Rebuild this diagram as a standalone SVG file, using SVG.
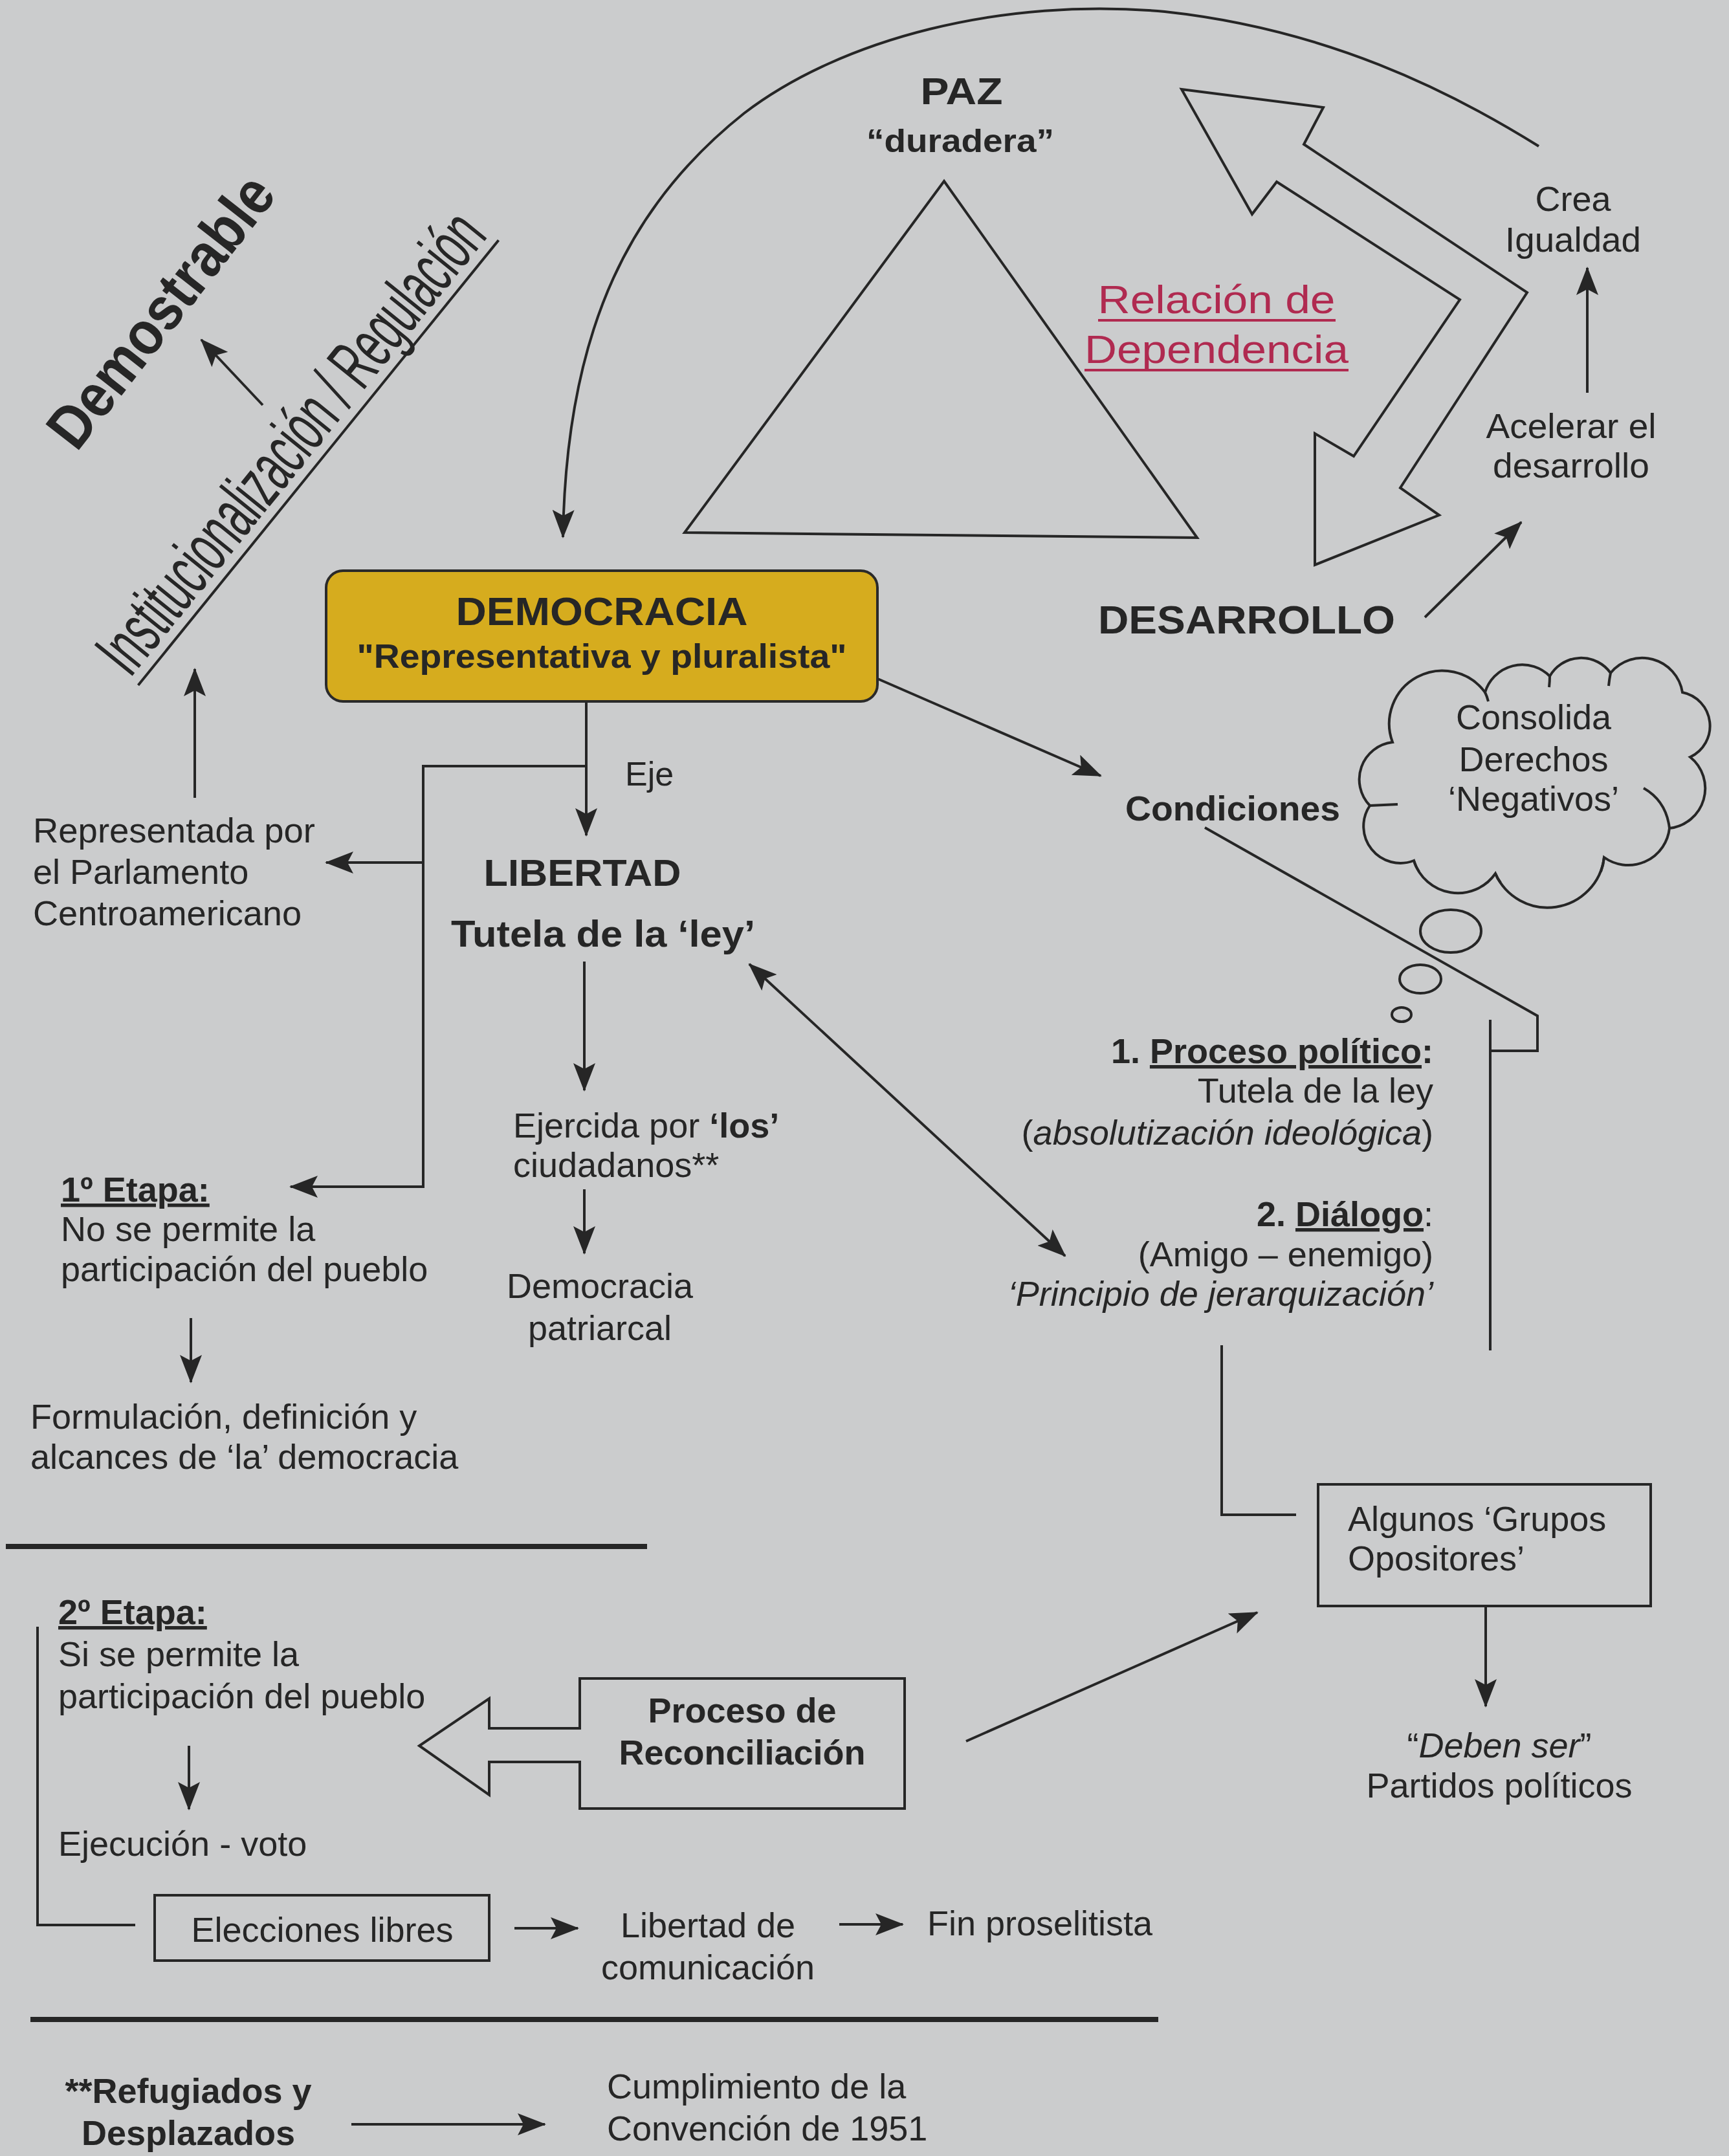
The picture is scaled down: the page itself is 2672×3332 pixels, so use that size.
<svg xmlns="http://www.w3.org/2000/svg" width="2672" height="3332" viewBox="0 0 2672 3332">
<style>
.t{font-family:"Liberation Sans",Arial,sans-serif;font-size:54px;fill:#262626}
.b{font-weight:bold}
.i{font-style:italic}
.u{text-decoration:underline}
.m{text-anchor:middle}
.e{text-anchor:end}
.ln{fill:none;stroke:#262626;stroke-width:4}
.ar{fill:none;stroke:#262626;stroke-width:4;marker-end:url(#ah)}
.shape{fill:none;stroke:#262626;stroke-width:4;stroke-linejoin:miter}
.red{fill:#b02a50}
</style>
<defs>
<marker id="ah" markerUnits="userSpaceOnUse" viewBox="0 0 44 34" markerWidth="44" markerHeight="34" refX="42" refY="17" orient="auto">
<path d="M0,0 L44,17 L0,34 L9,17 z" fill="#262626"/>
</marker>
<marker id="ahs" markerUnits="userSpaceOnUse" viewBox="0 0 44 34" markerWidth="44" markerHeight="34" refX="42" refY="17" orient="auto-start-reverse">
<path d="M0,0 L44,17 L0,34 L9,17 z" fill="#262626"/>
</marker>
</defs>
<rect x="0" y="0" width="2672" height="3332" fill="#cbcccd"/>

<g id="connectors">
<path class="ar" d="M2378,226 C2240,140 2050,45 1800,18 C1550,-5 1300,60 1150,175 C980,310 875,500 870,830"/>
<line class="ar" x1="406" y1="626" x2="311" y2="525"/>
<line class="ar" x1="301" y1="1233" x2="301" y2="1034"/>
<line class="ar" x1="906" y1="1084" x2="906" y2="1291"/>
<polyline class="ar" points="906,1184 654,1184 654,1834 449,1834"/>
<line class="ar" x1="654" y1="1333" x2="504" y2="1333"/>
<line class="ar" x1="903" y1="1486" x2="903" y2="1685"/>
<line class="ar" x1="903" y1="1838" x2="903" y2="1937"/>
<line class="ar" x1="295" y1="2037" x2="295" y2="2136"/>
<line class="ar" x1="1354" y1="1048" x2="1701" y2="1199"/>
<polyline class="ln" points="1862,1279 2376,1570 2376,1624 2303,1624"/>
<line class="ln" x1="2303" y1="1576" x2="2303" y2="2087"/>
<line class="ar" style="marker-start:url(#ahs)" x1="1158" y1="1490" x2="1646" y2="1941"/>
<polyline class="ln" points="1888,2079 1888,2341 2003,2341"/>
<line class="ar" x1="1493" y1="2691" x2="1943" y2="2492"/>
<line class="ar" x1="2296" y1="2482" x2="2296" y2="2637"/>
<line class="ar" x1="2202" y1="954" x2="2351" y2="807"/>
<line class="ar" x1="2453" y1="607" x2="2453" y2="414"/>
<polyline class="ln" points="58,2514 58,2975 209,2975"/>
<line class="ar" x1="292" y1="2698" x2="292" y2="2796"/>
<line class="ar" x1="795" y1="2980" x2="893" y2="2980"/>
<line class="ar" x1="1297" y1="2974" x2="1395" y2="2974"/>
<line class="ar" x1="543" y1="3283" x2="842" y2="3283"/>
<line x1="9" y1="2390" x2="1000" y2="2390" stroke="#262626" stroke-width="8"/>
<line x1="47" y1="3121" x2="1790" y2="3121" stroke="#262626" stroke-width="8"/>
</g>

<g id="demostrable" transform="translate(274,501) rotate(-52)">
<text class="t b m" x="0" y="0" style="font-size:95px" textLength="505" lengthAdjust="spacingAndGlyphs">Demostrable</text>
</g>

<g id="institucionalizacion" transform="translate(478,707) rotate(-51)">
<text class="t m" x="0" y="0" style="font-size:110px" textLength="880" lengthAdjust="spacingAndGlyphs">Institucionalización / Regulación</text>
<line x1="-440" y1="16" x2="445" y2="16" stroke="#262626" stroke-width="4"/>
</g>

<g id="paz">
<text class="t b m" x="1486" y="161" style="font-size:58px" textLength="127" lengthAdjust="spacingAndGlyphs">PAZ</text>
<text class="t b m" x="1484" y="235" style="font-size:50px" textLength="290" lengthAdjust="spacingAndGlyphs">“duradera”</text>
<polygon class="shape" points="1459,280 1058,823 1850,831"/>
</g>

<g id="dependencia">
<polygon class="shape" points="1826,138 2045,166 2015,223 2360,452 2164,754 2224,796 2032,873 2032,670 2092,705 2256,463 1973,281 1935,331"/>
<text class="t red m" x="1880" y="484" style="font-size:62px" textLength="367" lengthAdjust="spacingAndGlyphs">Relación de</text>
<text class="t red m" x="1880" y="561" style="font-size:62px" textLength="408" lengthAdjust="spacingAndGlyphs">Dependencia</text>
<line x1="1697" y1="495" x2="2064" y2="495" stroke="#b02a50" stroke-width="4"/>
<line x1="1676" y1="572" x2="2084" y2="572" stroke="#b02a50" stroke-width="4"/>
</g>

<g id="crea">
<text class="t m" x="2431" y="326">Crea</text>
<text class="t m" x="2431" y="389" textLength="210" lengthAdjust="spacingAndGlyphs">Igualdad</text>
</g>

<g id="acelerar">
<text class="t m" x="2428" y="677" textLength="263" lengthAdjust="spacingAndGlyphs">Acelerar el</text>
<text class="t m" x="2428" y="738" textLength="242" lengthAdjust="spacingAndGlyphs">desarrollo</text>
</g>

<g id="desarrollo">
<text class="t b" x="1697" y="979" style="font-size:62px" textLength="459" lengthAdjust="spacingAndGlyphs">DESARROLLO</text>
</g>

<g id="democracia">
<rect x="504" y="882" width="852" height="202" rx="26" fill="#d6ac1e" stroke="#2a2a2a" stroke-width="4"/>
<text class="t b m" x="930" y="966" style="font-size:62px" textLength="451" lengthAdjust="spacingAndGlyphs">DEMOCRACIA</text>
<text class="t b m" x="930" y="1032" style="font-size:52px" textLength="757" lengthAdjust="spacingAndGlyphs">"Representativa y pluralista"</text>
</g>

<g id="eje"><text class="t" x="966" y="1214" style="font-size:52px">Eje</text></g>

<g id="representada">
<text class="t" x="51" y="1302" textLength="436" lengthAdjust="spacingAndGlyphs">Representada por</text>
<text class="t" x="51" y="1366">el Parlamento</text>
<text class="t" x="51" y="1430" textLength="415" lengthAdjust="spacingAndGlyphs">Centroamericano</text>
</g>

<g id="libertad">
<text class="t b m" x="900" y="1369" style="font-size:58px" textLength="305" lengthAdjust="spacingAndGlyphs">LIBERTAD</text>
<text class="t b m" x="932" y="1463" style="font-size:58px" textLength="470" lengthAdjust="spacingAndGlyphs">Tutela de la ‘ley’</text>
</g>

<g id="ejercida">
<text class="t" x="793" y="1758">Ejercida por <tspan class="b">‘los’</tspan></text>
<text class="t" x="793" y="1819">ciudadanos**</text>
</g>

<g id="patriarcal">
<text class="t m" x="927" y="2006">Democracia</text>
<text class="t m" x="927" y="2071">patriarcal</text>
</g>

<g id="etapa1">
<text class="t b u" x="94" y="1857">1º Etapa:</text>
<text class="t" x="94" y="1918">No se permite la</text>
<text class="t" x="94" y="1980">participación del pueblo</text>
</g>

<g id="formulacion">
<text class="t" x="47" y="2208">Formulación, definición y</text>
<text class="t" x="47" y="2270">alcances de ‘la’ democracia</text>
</g>

<g id="condiciones">
<text class="t b" x="1739" y="1268" textLength="332" lengthAdjust="spacingAndGlyphs">Condiciones</text>
</g>

<g id="nube">
<path class="shape" d="M2152,1147 A82,82 0 0 1 2295,1070 A60,60 0 0 1 2395,1045 A56,56 0 0 1 2489,1040 A63,63 0 0 1 2600,1070 A53,53 0 0 1 2612,1170 A62,62 0 0 1 2580,1280 A64,64 0 0 1 2479,1325 A88,88 0 0 1 2311,1350 A71,71 0 0 1 2185,1330 A57,57 0 0 1 2117,1245 A58,58 0 0 1 2152,1147 z"/>
<path class="ln" d="M2117,1245 L2160,1243 M2580,1280 Q2575,1238 2540,1218 M2311,1350 Q2314,1358 2319,1364 M2479,1325 Q2478,1336 2474,1347 M2185,1330 Q2187,1338 2193,1347 M2295,1070 Q2298,1076 2300,1084 M2489,1040 Q2487,1050 2486,1060 M2395,1045 Q2395,1053 2394,1062"/>
<ellipse class="shape" cx="2242" cy="1439" rx="47" ry="33"/>
<ellipse class="shape" cx="2195" cy="1513" rx="32" ry="22"/>
<ellipse class="shape" cx="2166" cy="1568" rx="15" ry="11"/>
<text class="t m" x="2370" y="1127">Consolida</text>
<text class="t m" x="2370" y="1192">Derechos</text>
<text class="t m" x="2370" y="1253">‘Negativos’</text>
</g>

<g id="proceso-politico">
<text class="t e" x="2215" y="1643"><tspan class="b">1. </tspan><tspan class="b u">Proceso político</tspan><tspan class="b">:</tspan></text>
<text class="t e" x="2215" y="1704">Tutela de la ley</text>
<text class="t e" x="2215" y="1769">(<tspan class="i">absolutización ideológica</tspan>)</text>
<text class="t e" x="2215" y="1895"><tspan class="b">2. </tspan><tspan class="b u">Diálogo</tspan>:</text>
<text class="t e" x="2215" y="1957">(Amigo – enemigo)</text>
<text class="t e i" x="2215" y="2018">‘Principio de jerarquización’</text>
</g>

<g id="grupos">
<rect class="shape" x="2037" y="2294" width="514" height="188"/>
<text class="t" x="2083" y="2366">Algunos ‘Grupos</text>
<text class="t" x="2083" y="2427">Opositores’</text>
</g>

<g id="partidos">
<text class="t m" x="2317" y="2716">“<tspan class="i">Deben ser</tspan>”</text>
<text class="t m" x="2317" y="2778">Partidos políticos</text>
</g>

<g id="etapa2">
<text class="t b u" x="90" y="2510">2º Etapa:</text>
<text class="t" x="90" y="2575">Si se permite la</text>
<text class="t" x="90" y="2640">participación del pueblo</text>
</g>

<g id="reconciliacion">
<polygon class="shape" points="1398,2594 896,2594 896,2671 756,2671 756,2625 648,2698 756,2774 756,2723 896,2723 896,2795 1398,2795"/>
<text class="t b m" x="1147" y="2662">Proceso de</text>
<text class="t b m" x="1147" y="2727">Reconciliación</text>
</g>

<g id="ejecucion"><text class="t" x="90" y="2868">Ejecución - voto</text></g>

<g id="elecciones">
<rect class="shape" x="239" y="2929" width="517" height="101"/>
<text class="t m" x="498" y="3001">Elecciones libres</text>
</g>

<g id="comunicacion">
<text class="t m" x="1094" y="2994">Libertad de</text>
<text class="t m" x="1094" y="3059">comunicación</text>
</g>

<g id="fin"><text class="t" x="1433" y="2991">Fin proselitista</text></g>

<g id="refugiados">
<text class="t b m" x="291" y="3250">**Refugiados y</text>
<text class="t b m" x="291" y="3315">Desplazados</text>
</g>

<g id="cumplimiento">
<text class="t" x="938" y="3243">Cumplimiento de la</text>
<text class="t" x="938" y="3308">Convención de 1951</text>
</g>
</svg>
